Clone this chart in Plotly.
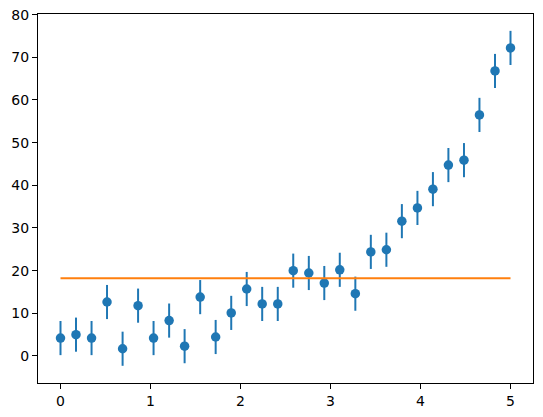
import numpy as np
import plotly.graph_objects as go

x_vals = [0.0, 0.172, 0.345, 0.517, 0.690, 0.862, 1.034, 1.207, 1.379, 1.552,
          1.724, 1.897, 2.069, 2.241, 2.414, 2.586, 2.759, 2.931, 3.103, 3.276,
          3.448, 3.621, 3.793, 3.966, 4.138, 4.310, 4.483, 4.655, 4.828, 5.0]
y_vals = [4.2, 5.0, 4.2, 12.65, 1.7, 11.8, 4.2, 8.3, 2.3, 13.8,
          4.45, 10.1, 15.7, 12.2, 12.2, 20.0, 19.45, 17.1, 20.2, 14.6,
          24.4, 24.9, 31.6, 34.7, 39.1, 44.75, 45.9, 56.5, 66.8, 72.2]
y_err = [4.0] * 30
fit_x = [0.0, 5.0]
fit_y = [18.2, 18.2]

x_ticks = [0, 1, 2, 3, 4, 5]
y_ticks = [0, 10, 20, 30, 40, 50, 60, 70, 80]

fig = go.Figure()
fig.add_trace(go.Scatter(
    x=x_vals, y=y_vals, mode="markers",
    marker=dict(color="#1f77b4", size=9.5),
    error_y=dict(type="data", array=y_err, visible=True, color="#1f77b4",
                 thickness=2, width=0),
    showlegend=False,
))
fig.add_trace(go.Scatter(
    x=fit_x, y=fit_y, mode="lines",
    line=dict(color="#ff7f0e", width=2),
    showlegend=False,
))

axis_common = dict(
    showline=True, linecolor="black", linewidth=1, mirror=True,
    ticks="outside", ticklen=5, tickwidth=1, tickcolor="black",
    showgrid=False, zeroline=False, automargin=False,
    tickfont=dict(family="DejaVu Sans", size=14, color="black"),
)
fig.update_layout(
    width=543, height=417,
    margin=dict(l=38, r=10, t=14, b=34, autoexpand=False),
    paper_bgcolor="white", plot_bgcolor="white",
    hovermode=False,
    xaxis=dict(range=[-0.25, 5.25], tickvals=x_ticks, **axis_common),
    yaxis=dict(range=[-6.33, 80.15], tickvals=y_ticks, **axis_common),
)
fig.write_html("out.html",
               config={"displayModeBar": False, "staticPlot": True},
               post_script="document.body.style.margin='0';document.body.style.overflow='hidden';")
